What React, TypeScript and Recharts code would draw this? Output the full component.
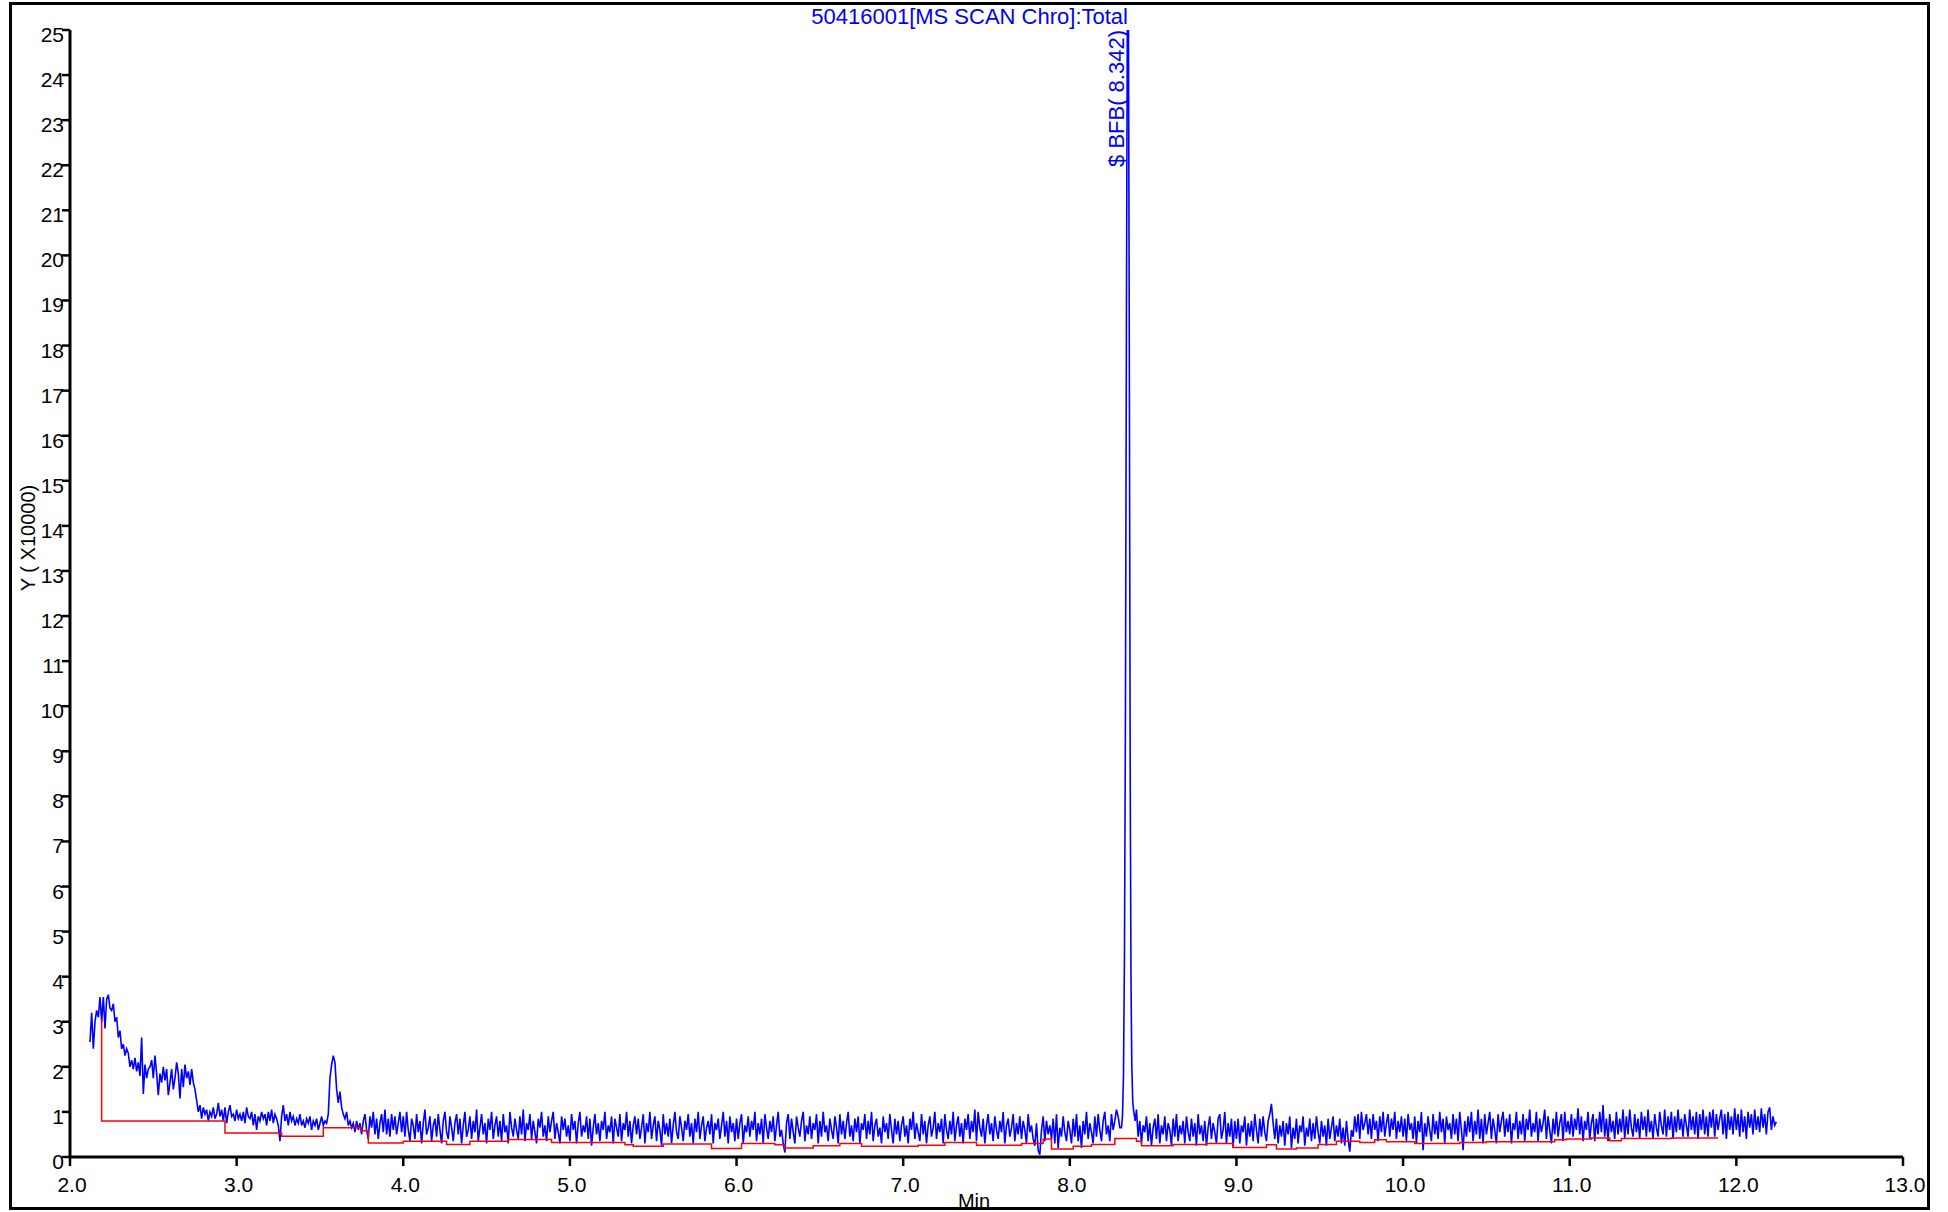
import React from 'react';
import { LineChart, Line, XAxis, YAxis, ReferenceLine } from 'recharts';

// TIC trace, hundredths of the Y unit (x10000 counts), one scan every 0.01 min
const tic2 = [
  255, 320, 240, 300, 325, 310, 355, 300, 355, 285,
  350, 360, 330, 325, 340, 300, 310, 265, 280, 240,
  250, 225, 240, 230, 200, 215, 195, 220, 190, 210,
  180, 265, 140, 205, 175, 195, 200, 215, 175, 225,
  185, 137, 185, 165, 200, 170, 195, 137, 165, 195,
  150, 175, 210, 185, 130, 195, 155, 205, 175, 190,
  160, 195, 165, 150, 125, 100, 115, 85, 110, 95,
  105, 80, 100, 90, 110, 85, 95, 120, 90, 105,
  80, 110, 75, 100, 115, 90, 95, 80,
];
const tic3 = [
  105, 85, 95, 80, 100, 75, 110, 90, 85, 100,
  70, 95, 60, 90, 80, 100, 85, 95, 70, 100,
  80, 105, 75, 95, 85, 70, 35, 90, 115, 80,
  95, 70, 100, 80, 90, 70, 85, 75, 95, 70,
  80, 65, 85, 75, 90, 60, 80, 70, 85, 60,
  75, 90, 70, 80, 75, 95, 175, 205, 225, 210,
  150, 120, 145, 110, 95, 85, 100, 70, 80, 65,
  75, 55, 80, 60, 75, 50, 80, 95, 60, 40,
  90, 65, 100, 50, 85, 40, 75, 95, 55, 105,
  50, 85, 45, 95, 60, 90, 50, 75, 100, 55,
];
const tic4 = [
  90, 45, 100, 60, 35, 85, 70, 40, 95, 55,
  80, 30, 75, 105, 50, 65, 90, 35, 70, 85,
  45, 95, 60, 30, 80, 100, 55, 40, 90, 65,
  35, 75, 95, 50, 85, 30, 70, 100, 45, 60,
  90, 40, 80, 55, 105, 35, 65, 95, 50, 75,
  30, 85, 60, 100, 40, 70, 90, 45, 80, 35,
  95, 55, 70, 30, 100, 65, 45, 85, 60, 40,
  90, 50, 105, 35, 75, 60, 95, 40, 80, 55,
  30, 85, 65, 100, 45, 70, 35, 90, 55, 80,
  100, 40, 75, 55, 30, 90, 60, 85, 45, 70,
];
const tic5 = [
  35, 95, 60, 80, 30, 75, 100, 45, 70, 55,
  90, 40, 85, 25, 65, 95, 50, 75, 35, 80,
  60, 100, 40, 70, 55, 90, 30, 85, 65, 45,
  95, 35, 75, 60, 100, 45, 80, 30, 70, 90,
  50, 85, 40, 65, 95, 30, 75, 55, 100, 40,
  70, 90, 35, 80, 60, 25, 95, 50, 75, 45,
  85, 30, 70, 100, 55, 40, 90, 65, 35, 80,
  60, 95, 45, 75, 30, 85, 55, 100, 40, 70,
  90, 35, 65, 80, 50, 95, 30, 75, 60, 85,
  40, 70, 100, 45, 80, 30, 90, 55, 75, 35,
];
const tic6 = [
  85, 40, 75, 95, 30, 70, 55, 90, 45, 80,
  60, 100, 35, 75, 50, 85, 30, 95, 65, 40,
  80, 55, 90, 35, 70, 100, 45, 60, 30, 10,
  75, 95, 40, 85, 55, 30, 90, 65, 45, 80,
  100, 35, 70, 50, 90, 40, 75, 60, 95, 30,
  80, 45, 100, 55, 70, 35, 85, 60, 40, 90,
  65, 30, 95, 50, 80, 40, 75, 100, 45, 70,
  35, 85, 55, 90, 30, 75, 60, 95, 40, 80,
  50, 100, 35, 70, 85, 45, 65, 30, 90, 55,
  75, 40, 95, 60, 30, 85, 50, 80, 35, 70,
];
const tic7 = [
  90, 45, 70, 30, 85, 60, 100, 40, 75, 55,
  35, 95, 50, 80, 30, 70, 90, 45, 65, 100,
  40, 75, 55, 85, 30, 95, 60, 40, 80, 50,
  100, 35, 70, 90, 45, 75, 30, 85, 60, 95,
  40, 80, 55, 105, 35, 100, 65, 45, 85, 30,
  70, 95, 50, 75, 35, 90, 60, 40, 80, 55,
  100, 30, 70, 85, 45, 65, 95, 35, 75, 50,
  90, 40, 80, 60, 30, 95, 55, 70, 40, 25,
  75, 15, 5, 60, 90, 35, 80, 50, 70, 40,
  85, 30, 95, 20, 65, 45, 90, 55, 35, 80,
];
const tic8a = [
  60, 30, 85, 45, 95, 35, 70, 20, 80, 50,
  100, 40, 75, 55, 30, 90, 45, 95, 60, 35,
  80, 100, 50, 70, 35, 95, 60, 80, 105, 90,
  65,
];
const tic8b = [
  105, 45, 80, 30, 70, 55, 90, 35, 75, 25,
  65, 85, 40, 95, 30, 70, 50, 90, 35, 75,
  60, 25, 85, 45, 95, 35, 70, 50, 80, 30,
  90, 55, 35, 85, 45, 75, 25, 95, 50, 70,
  35, 80, 25, 65, 90, 40, 75, 55, 30, 85,
  95, 40, 60, 100, 30, 75, 45, 85, 20, 80,
];
const tic9 = [
  40, 85, 30, 70, 55, 90, 25, 75, 45, 80,
  35, 95, 60, 30, 85, 45, 90, 55, 35, 80,
  95, 118, 75, 40, 85, 30, 70, 45, 80, 25,
  75, 50, 90, 20, 65, 40, 85, 30, 70, 55,
  90, 25, 65, 45, 85, 35, 75, 40, 90, 55,
  30, 80, 45, 70, 25, 85, 40, 65, 90, 35,
  70, 45, 85, 30, 65, 25, 80, 40, 12, 60,
  45, 90, 55, 95, 40, 100, 60, 75, 95, 50,
  85, 40, 95, 60, 80, 35, 90, 55, 100, 45,
  75, 95, 45, 85, 60, 100, 40, 80, 55, 90,
];
const tic10 = [
  45, 85, 35, 95, 60, 75, 40, 90, 30, 80,
  55, 100, 15, 75, 45, 90, 60, 35, 95, 50,
  80, 40, 100, 55, 85, 30, 90, 60, 75, 40,
  95, 50, 85, 35, 100, 60, 15, 80, 45, 90,
  55, 100, 35, 80, 50, 105, 40, 85, 30, 95,
  50, 75, 100, 40, 85, 60, 30, 95, 55, 80,
  100, 45, 85, 55, 95, 30, 75, 60, 100, 40,
  80, 50, 95, 35, 85, 60, 105, 45, 75, 55,
  100, 35, 85, 55, 75, 105, 40, 90, 60, 30,
  85, 50, 100, 45, 75, 95, 35, 100, 55, 80,
];
const tic11 = [
  50, 95, 45, 85, 60, 108, 50, 90, 35, 80,
  60, 100, 40, 75, 95, 35, 85, 50, 100, 55,
  115, 45, 85, 35, 95, 55, 80, 40, 100, 50,
  85, 55, 105, 40, 90, 50, 105, 65, 45, 95,
  55, 85, 40, 100, 60, 90, 45, 105, 55, 80,
  40, 95, 65, 45, 100, 70, 50, 105, 45, 90,
  60, 100, 40, 90, 55, 105, 60, 85, 45, 95,
  70, 45, 105, 60, 90, 50, 100, 40, 95, 60,
  105, 50, 90, 45, 100, 65, 105, 45, 95, 60,
  85, 105, 50, 95, 40, 100, 60, 90, 50, 108,
];
const tic12 = [
  60, 95, 45, 105, 55, 90, 40, 100, 65, 95,
  50, 105, 60, 90, 55, 108, 65, 95, 50, 100,
  110, 60, 90, 70, 78,
];

// BFB peak, sampled finer
const peakTimes = [8.31, 8.316, 8.322, 8.328, 8.334, 8.34, 8.345, 8.352, 8.357, 8.362, 8.367, 8.372, 8.378, 8.384, 8.392];
const peakValues = [0.65, 0.9, 1.8, 4.5, 10, 19, 25.1, 25.1, 18, 9, 4, 2, 1.2, 1.0, 0.8];

// integration baseline: [start, end, level]
const baseline: [number, number, number][] = [
  [2.19, 2.19, 3.05], [2.19, 2.93, 0.8], [2.93, 3.27, 0.53], [3.27, 3.52, 0.46],
  [3.52, 3.75, 0.65], [3.75, 3.79, 0.58], [3.79, 4.0, 0.31], [4.0, 4.26, 0.35],
  [4.26, 4.4, 0.28], [4.4, 4.63, 0.35], [4.63, 4.89, 0.39], [4.89, 5.33, 0.32],
  [5.33, 5.38, 0.27], [5.38, 5.56, 0.24], [5.56, 5.85, 0.29], [5.85, 6.03, 0.19],
  [6.03, 6.23, 0.3], [6.23, 6.29, 0.27], [6.29, 6.46, 0.2], [6.46, 6.62, 0.25],
  [6.62, 6.75, 0.3], [6.75, 7.09, 0.24], [7.09, 7.25, 0.26], [7.25, 7.44, 0.32],
  [7.44, 7.71, 0.26], [7.71, 7.84, 0.3], [7.84, 7.89, 0.4], [7.89, 8.02, 0.18],
  [8.02, 8.13, 0.24], [8.13, 8.27, 0.28], [8.27, 8.4, 0.41], [8.4, 8.43, 0.35],
  [8.43, 8.62, 0.25], [8.62, 8.82, 0.28], [8.82, 8.98, 0.3], [8.98, 9.18, 0.21],
  [9.18, 9.24, 0.27], [9.24, 9.36, 0.18], [9.36, 9.49, 0.2], [9.49, 9.6, 0.28],
  [9.6, 9.74, 0.35], [9.74, 9.83, 0.32], [9.83, 9.9, 0.38], [9.9, 10.07, 0.34],
  [10.07, 10.34, 0.3], [10.34, 10.5, 0.32], [10.5, 10.91, 0.34], [10.91, 10.98, 0.38],
  [10.98, 11.13, 0.4], [11.13, 11.24, 0.42], [11.24, 11.31, 0.36], [11.31, 11.61, 0.41],
  [11.61, 11.89, 0.42],
];

const xTicks = [2, 3, 4, 5, 6, 7, 8, 9, 10, 11, 12, 13];
const yTicks = Array.from({ length: 26 }, (_, i) => i);

const SCAN = 0.01;
const chunks: [number, number[]][] = [
  [2.12, tic2], [3, tic3], [4, tic4], [5, tic5], [6, tic6], [7, tic7],
  [8, tic8a], [8.4, tic8b], [9, tic9], [10, tic10], [11, tic11], [12, tic12],
];

const ticData = [
  ...chunks.flatMap(([start, vals]) =>
    vals.map((v, i) => ({ t: Math.round((start + i * SCAN) * 1000) / 1000, v: v / 100 }))),
  ...peakTimes.map((t, i) => ({ t, v: peakValues[i] })),
].sort((a, b) => a.t - b.t);

const baseData = baseline.flatMap(([s, e, lv]) => [{ t: s, v: lv }, { t: e, v: lv }]);

const FONT = '"Liberation Sans", Arial, sans-serif';

const YTick = ({ x, y, payload }: any) => (
  <text x={x + 2} y={y + 12} textAnchor="end" fontSize={21} fontFamily={FONT} fill="#000">
    {payload.value}
  </text>
);

const XTick = ({ x, y, payload }: any) => (
  <text x={x + 2} y={y + 26} textAnchor="middle" fontSize={21} fontFamily={FONT} fill="#000">
    {Number(payload.value).toFixed(1)}
  </text>
);

const PeakLabel = ({ viewBox }: any) => {
  const px = viewBox.x - 3;
  const py = viewBox.y;
  return (
    <text x={px} y={py} transform={`rotate(-90 ${px} ${py})`} textAnchor="end"
      fontSize={22} fontFamily={FONT} fill="#0000ff">
      $ BFB( 8.342)
    </text>
  );
};

export default function App() {
  return (
    <div style={{ position: 'relative', width: 1948, height: 1212, background: '#fff', overflow: 'hidden' }}>
      <style>{'body{margin:0}'}</style>
      <LineChart width={1948} height={1212} margin={{ top: 30, right: 45, bottom: 15, left: 10 }}>
        <XAxis dataKey="t" type="number" domain={[2, 13]} ticks={xTicks} allowDataOverflow height={40}
          axisLine={{ stroke: '#000', strokeWidth: 3 }} tickLine={{ stroke: '#000', strokeWidth: 2.5 }}
          tickSize={9} tickMargin={0} tick={<XTick />} interval={0} />
        <YAxis type="number" domain={[0, 25]} ticks={yTicks} allowDataOverflow width={60}
          axisLine={{ stroke: '#000', strokeWidth: 3 }} tickLine={{ stroke: '#000', strokeWidth: 2.5 }}
          tickSize={8} tickMargin={0} tick={<YTick />} interval={0} />
        <Line data={ticData} dataKey="v" type="linear" stroke="#0000ff" strokeWidth={1.6}
          dot={false} isAnimationActive={false} />
        <Line data={baseData} dataKey="v" type="linear" stroke="#ff0000" strokeWidth={1.5}
          dot={false} isAnimationActive={false} />
        <ReferenceLine x={8.342} stroke="none" label={<PeakLabel />} />
      </LineChart>
      <svg width={1948} height={1212} style={{ position: 'absolute', left: 0, top: 0, pointerEvents: 'none' }}>
        <text x={1128} y={24} textAnchor="end" fontSize={22} fontFamily={FONT} fill="#0000ff">
          50416001[MS SCAN Chro]:Total
        </text>
        <text x={35} y={538} transform="rotate(-90 35 538)" textAnchor="middle" fontSize={20} fontFamily={FONT} fill="#000">
          Y ( X10000)
        </text>
        <text x={974} y={1208} textAnchor="middle" fontSize={20} fontFamily={FONT} fill="#000">Min</text>
      </svg>
      <div style={{ position: 'absolute', left: 9, top: 2, width: 1921, height: 1208, border: '3px solid #000', boxSizing: 'border-box', pointerEvents: 'none' }} />
    </div>
  );
}
